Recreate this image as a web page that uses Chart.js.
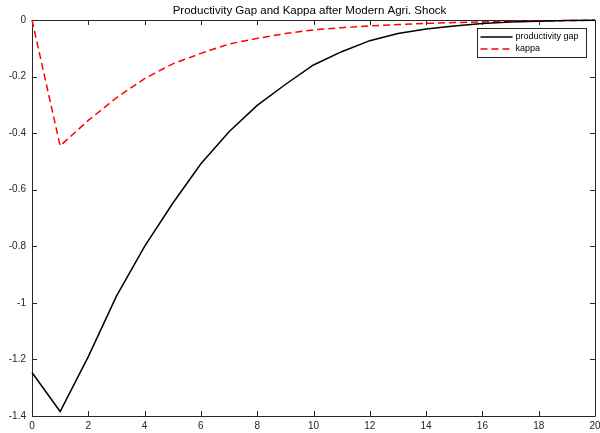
<!DOCTYPE html>
<html>
<head>
<meta charset="utf-8">
<script src="https://cdn.jsdelivr.net/npm/chart.js@4/dist/chart.umd.min.js"></script>
<style>
  html, body { margin: 0; padding: 0; background: #fff; }
  #wrap { width: 600px; height: 433px; }
</style>
</head>
<body>
<div id="wrap"><canvas id="c" width="600" height="433"></canvas></div>
<script>
// Impulse responses, periods 0..20
const periods = [0,1,2,3,4,5,6,7,8,9,10,11,12,13,14,15,16,17,18,19,20];
const productivityGap = [-1.246,-1.384,-1.19,-0.976,-0.80,-0.648,-0.508,-0.395,-0.302,-0.228,-0.159,-0.112,-0.073,-0.048,-0.032,-0.021,-0.012,-0.007,-0.004,-0.002,-0.001];
const kappa = [0,-0.445,-0.355,-0.275,-0.207,-0.155,-0.118,-0.085,-0.065,-0.048,-0.035,-0.027,-0.021,-0.016,-0.012,-0.009,-0.007,-0.005,-0.003,-0.002,-0.001];
const seriesNames = ['productivity gap', 'kappa'];
const chartTitle = 'Productivity Gap and Kappa after Modern Agri. Shock';
const xTicks = [0,2,4,6,8,10,12,14,16,18,20];
const yTicks = [0,-0.2,-0.4,-0.6,-0.8,-1,-1.2,-1.4];

const FONT = '"Liberation Sans", Arial, sans-serif';
const AXIS = '#262626';

// Box around the axes with inward-pointing ticks on all four sides
const boxPlugin = {
  id: 'box',
  beforeDatasetsDraw(chart) {
    const { ctx, chartArea: a, scales } = chart;
    ctx.save();
    ctx.strokeStyle = AXIS;
    ctx.lineWidth = 1;
    ctx.beginPath();
    ctx.rect(Math.round(a.left) + 0.5, Math.round(a.top) + 0.5,
             Math.round(a.right - a.left), Math.round(a.bottom - a.top));
    const L = 5;
    xTicks.forEach(v => {
      const x = Math.round(scales.x.getPixelForValue(v)) + 0.5;
      ctx.moveTo(x, a.bottom); ctx.lineTo(x, a.bottom - L);
      ctx.moveTo(x, a.top); ctx.lineTo(x, a.top + L);
    });
    yTicks.forEach(v => {
      const y = Math.round(scales.y.getPixelForValue(v)) + 0.5;
      ctx.moveTo(a.left, y); ctx.lineTo(a.left + L, y);
      ctx.moveTo(a.right, y); ctx.lineTo(a.right - L, y);
    });
    ctx.stroke();
    ctx.restore();
  },
  afterDraw(chart) {
    const { ctx, chartArea: a } = chart;
    ctx.save();
    // title centred over the axes
    ctx.fillStyle = '#000';
    ctx.font = '11.5px ' + FONT;
    ctx.textAlign = 'center';
    ctx.textBaseline = 'middle';
    ctx.fillText(chartTitle, (a.left + a.right) / 2 - 4, 11);

    // legend box in the upper-right corner
    const bx = 477.5, by = 28.5, bw = 109, bh = 29;
    ctx.fillStyle = '#fff';
    ctx.fillRect(bx, by, bw, bh);
    ctx.strokeStyle = AXIS;
    ctx.lineWidth = 1;
    ctx.strokeRect(bx, by, bw, bh);
    ctx.font = '9px ' + FONT;
    ctx.textAlign = 'left';
    chart.data.datasets.forEach((ds, i) => {
      const y = by + 8.5 + i * 12;
      ctx.strokeStyle = ds.borderColor;
      ctx.lineWidth = ds.borderWidth;
      ctx.setLineDash(ds.borderDash || []);
      ctx.beginPath();
      ctx.moveTo(bx + 3, y); ctx.lineTo(bx + 35, y);
      ctx.stroke();
      ctx.setLineDash([]);
      ctx.fillStyle = '#000';
      ctx.fillText(ds.label, bx + 38, y);
    });
    ctx.restore();
  }
};

new Chart(document.getElementById('c'), {
  type: 'line',
  data: {
    labels: periods,
    datasets: [
      {
        label: seriesNames[0],
        data: periods.map((p, i) => ({ x: p, y: productivityGap[i] })),
        borderColor: '#000',
        borderWidth: 1.5,
        pointRadius: 0,
        tension: 0,
        clip: 4
      },
      {
        label: seriesNames[1],
        data: periods.map((p, i) => ({ x: p, y: kappa[i] })),
        borderColor: '#ff0000',
        borderWidth: 1.5,
        borderDash: [7, 4],
        pointRadius: 0,
        tension: 0,
        clip: 4
      }
    ]
  },
  options: {
    responsive: false,
    animation: false,
    devicePixelRatio: 1,
    layout: { padding: { top: 20, right: 0, left: 0, bottom: 0 } },
    plugins: { legend: { display: false }, title: { display: false }, tooltip: { enabled: false } },
    scales: {
      x: {
        type: 'linear',
        min: 0, max: 20,
        afterFit: s => { s.height = 17; s.paddingRight = 5; },
        afterBuildTicks: s => { s.ticks = xTicks.map(v => ({ value: v })); },
        grid: { display: false, drawTicks: false },
        border: { display: false },
        ticks: {
          padding: 4,
          maxRotation: 0,
          autoSkip: false,
          color: AXIS,
          font: { family: FONT, size: 10 },
          callback: v => String(v)
        }
      },
      y: {
        type: 'linear',
        min: -1.4, max: 0,
        afterFit: s => { s.width = 32; },
        afterBuildTicks: s => { s.ticks = yTicks.map(v => ({ value: v })); },
        grid: { display: false, drawTicks: false },
        border: { display: false },
        ticks: {
          padding: 6,
          autoSkip: false,
          color: AXIS,
          font: { family: FONT, size: 10 },
          callback: v => String(Math.round(v * 10) / 10)
        }
      }
    }
  },
  plugins: [boxPlugin]
});
</script>
</body>
</html>
